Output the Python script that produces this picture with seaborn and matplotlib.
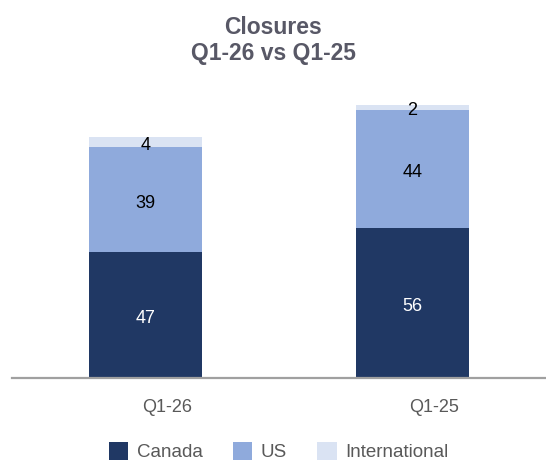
import matplotlib
matplotlib.use("Agg")
import matplotlib.pyplot as plt
import matplotlib.transforms as mtransforms
import seaborn as sns
import numpy as np
import pandas as pd
from matplotlib.patches import Patch

periods = ["Q1-26", "Q1-25"]
canada = [47, 56]
us = [39, 44]
international = [4, 2]
series_names = ["Canada", "US", "International"]
colors = ["#203864", "#8faadc", "#dae3f3"]
label_colors = ["white", "black", "black"]

sns.set_theme(style="white")
plt.rcParams["font.family"] = ["Liberation Sans", "DejaVu Sans"]

fig = plt.figure(figsize=(5.46, 4.62), dpi=100)
ax = fig.add_axes([0.022, 0.182, 0.978, 0.638])

df = pd.DataFrame({"period": periods, "Canada": canada, "US": us,
                   "International": international})
bottom = np.zeros(len(periods))
for name, col, lc in zip(series_names, colors, label_colors):
    vals = df[name].to_numpy()
    sns.barplot(data=df, x="period", y=name, color=col, bottom=bottom,
                width=0.42, ax=ax, saturation=1, linewidth=0, errorbar=None)
    for i, v in enumerate(vals):
        ax.annotate(str(v), (i, bottom[i] + v / 2), xytext=(0, -2.5),
                    textcoords="offset points", ha="center", va="center",
                    fontsize=13, color=lc)
    bottom = bottom + vals

ax.set_xlim(-0.5, 1.5)
ax.set_ylim(0, 110)
ax.set_ylabel("")
ax.set_xlabel("")
ax.set_yticks([])
for s in ["top", "right", "left"]:
    ax.spines[s].set_visible(False)
ax.spines["bottom"].set_color("#a0a0a0")
ax.spines["bottom"].set_linewidth(1.6)
ax.tick_params(axis="x", length=0, pad=15, labelsize=13, labelcolor="#595959")
offset = mtransforms.ScaledTranslation(22 / 100, 0, fig.dpi_scale_trans)
for lbl in ax.get_xticklabels():
    lbl.set_transform(lbl.get_transform() + offset)

fig.text(0.5, 0.912, "Closures\nQ1-26 vs Q1-25", ha="center", va="center",
         fontsize=16.5, fontweight="bold", color="#585866", linespacing=1.2)

handles = [Patch(facecolor=c, edgecolor="none", label=n)
           for n, c in zip(series_names, colors)]
leg = fig.legend(handles=handles, loc="center", bbox_to_anchor=(0.51, 0.022),
                 ncol=3, frameon=False, fontsize=13.5, handlelength=1.05,
                 handleheight=1.05, columnspacing=1.6, handletextpad=0.45)
for t in leg.get_texts():
    t.set_color("#595959")

fig.savefig("out.png", dpi=100)
